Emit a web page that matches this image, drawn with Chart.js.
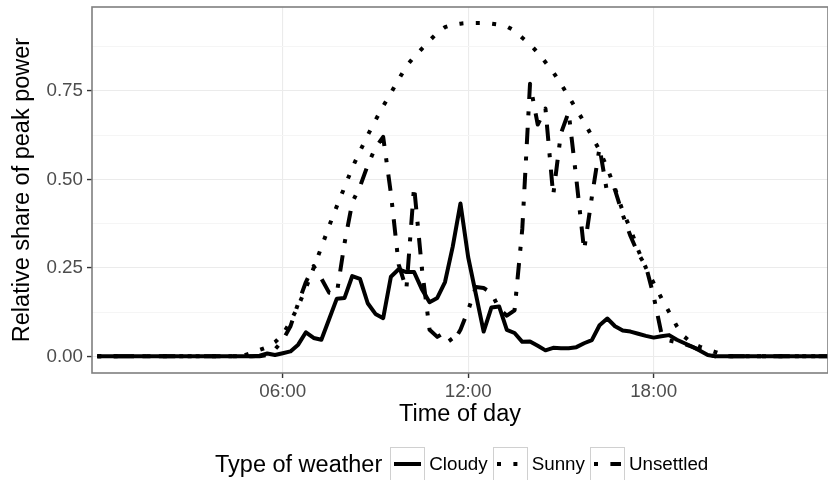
<!DOCTYPE html>
<html>
<head>
<meta charset="utf-8">
<script src="https://cdn.jsdelivr.net/npm/chart.js@4.4.0/dist/chart.umd.min.js"></script>
<style>
  html, body { margin: 0; padding: 0; background: #fff; }
  #wrap { position: relative; width: 828px; height: 480px; overflow: hidden;
          font-family: "Liberation Sans", Arial, Helvetica, sans-serif; }
  #chart { position: absolute; left: 0; top: 0; }
  #legend { position: absolute; left: 215px; top: 447px; display: flex; white-space: nowrap; }
  #legend .title { font-size: 23.5px; line-height: 34px; margin-right: 8px; color: #000; }
  #legend .key { width: 35px; height: 34px; box-sizing: border-box; border: 1px solid #d0d0d0; margin-right: 4px; }
  #legend .label { font-size: 18.8px; line-height: 34px; margin-right: 5px; color: #000; }
</style>
</head>
<body>
<div id="wrap">
  <canvas id="chart" width="828" height="480"></canvas>
  <div id="legend"></div>
</div>
<script>
// 15-minute readings, first one at 00:00
const stepHours = 0.25;
const tickHours = [6, 12, 18];
const tickLabels = ['06:00', '12:00', '18:00'];
const yGridValues = [0, 0.125, 0.25, 0.375, 0.5, 0.625, 0.75, 0.875];
const yMajor = [0, 0.25, 0.5, 0.75];
const seriesNames = ['Cloudy', 'Sunny', 'Unsettled'];

const cloudy = [
  0, 0, 0, 0, 0, 0, 0, 0, 0, 0, 0, 0,
  0, 0, 0, 0, 0, 0, 0, 0, 0, 0.002, 0.008, 0.004,
  0.009, 0.014, 0.033, 0.068, 0.052, 0.047, 0.105, 0.163, 0.165, 0.227, 0.219, 0.15,
  0.12, 0.108, 0.225, 0.246, 0.238, 0.238, 0.19, 0.153, 0.165, 0.21, 0.31, 0.432,
  0.28, 0.175, 0.07, 0.138, 0.141, 0.075, 0.066, 0.041, 0.042, 0.03, 0.017, 0.024,
  0.023, 0.023, 0.026, 0.037, 0.046, 0.088, 0.107, 0.085, 0.073, 0.07, 0.064, 0.058,
  0.053, 0.057, 0.06, 0.047, 0.037, 0.027, 0.016, 0.004, 0, 0, 0, 0,
  0, 0, 0, 0, 0, 0, 0, 0, 0, 0, 0, 0
];
const sunny = [
  0, 0, 0, 0, 0, 0, 0, 0, 0, 0, 0, 0,
  0, 0, 0, 0, 0, 0, 0, 0.003, 0.01, 0.018, 0.026, 0.04,
  0.062, 0.098, 0.142, 0.193, 0.25, 0.308, 0.368, 0.424, 0.478, 0.533, 0.58, 0.625,
  0.667, 0.707, 0.744, 0.782, 0.82, 0.846, 0.869, 0.892, 0.914, 0.93, 0.937, 0.94,
  0.942, 0.942, 0.942, 0.94, 0.937, 0.932, 0.92, 0.9, 0.882, 0.858, 0.831, 0.803,
  0.77, 0.734, 0.698, 0.662, 0.622, 0.582, 0.532, 0.474, 0.41, 0.36, 0.3, 0.25,
  0.207, 0.165, 0.125, 0.085, 0.055, 0.037, 0.027, 0.019, 0.012, 0.005, 0, 0,
  0, 0, 0, 0, 0, 0, 0, 0, 0, 0, 0, 0
];
const unsettled = [
  0, 0, 0, 0, 0, 0, 0, 0, 0, 0, 0, 0,
  0, 0, 0, 0, 0, 0, 0, 0, 0, 0, 0.004, 0.02,
  0.045, 0.085, 0.15, 0.21, 0.255, 0.22, 0.18, 0.178, 0.32, 0.435, 0.48, 0.54,
  0.59, 0.62, 0.46, 0.26, 0.19, 0.48, 0.25, 0.075, 0.055, 0.068, 0.038, 0.075,
  0.13, 0.196, 0.193, 0.18, 0.135, 0.115, 0.13, 0.36, 0.77, 0.655, 0.7, 0.455,
  0.63, 0.69, 0.5, 0.3, 0.45, 0.59, 0.46, 0.47, 0.4, 0.34, 0.29, 0.255,
  0.17, 0.065, 0.045, 0.04, 0.035, 0.027, 0.018, 0.005, 0, 0, 0, 0,
  0, 0, 0, 0, 0, 0, 0, 0, 0, 0, 0, 0
];

const dashes = {
  Cloudy: [],
  Sunny: [4, 12.4],
  Unsettled: [4, 12.4, 16.4, 12.4]
};

const toPoints = values => values.map((v, i) => ({ x: i * stepHours, y: v }));

const panelBorder = {
  id: 'panelBorder',
  afterDatasetsDraw(chart) {
    const { ctx, chartArea: a } = chart;
    ctx.save();
    ctx.strokeStyle = '#7f7f7f';
    ctx.lineWidth = 1.6;
    ctx.strokeRect(a.left, a.top, a.right - a.left, a.bottom - a.top);
    ctx.restore();
  }
};

const font = '"Liberation Sans", Arial, Helvetica, sans-serif';
const isMajor = v => yMajor.includes(v);

new Chart(document.getElementById('chart'), {
  type: 'line',
  data: {
    datasets: [cloudy, sunny, unsettled].map((values, i) => ({
      label: seriesNames[i],
      data: toPoints(values),
      borderColor: '#000',
      borderWidth: 4,
      borderDash: dashes[seriesNames[i]],
      borderCapStyle: 'butt',
      borderJoinStyle: 'round',
      pointRadius: 0,
      tension: 0,
      fill: false
    }))
  },
  options: {
    responsive: false,
    animation: false,
    devicePixelRatio: 1,
    layout: { padding: { top: 7, right: 0, bottom: 43, left: 0 } },
    plugins: { legend: { display: false }, tooltip: { enabled: false } },
    scales: {
      x: {
        type: 'linear',
        min: -0.17,
        max: 23.64,
        afterBuildTicks: s => { s.ticks = tickHours.map(v => ({ value: v })); },
        afterFit: s => { s.height = 64; s.paddingLeft = 0; s.paddingRight = 0; },
        ticks: {
          autoSkip: false, maxRotation: 0, padding: 3,
          color: '#4d4d4d', font: { family: font, size: 18.8 },
          callback: v => tickLabels[tickHours.indexOf(v)] || ''
        },
        grid: { color: '#ebebeb', lineWidth: 1.1, tickLength: 5, tickColor: '#333', tickWidth: 1.4 },
        border: { display: false },
        title: {
          display: true, text: 'Time of day', color: '#000',
          font: { family: font, size: 23.5 }, padding: { top: 0, bottom: 8 }
        }
      },
      y: {
        min: -0.047,
        max: 0.987,
        afterBuildTicks: s => { s.ticks = yGridValues.map(v => ({ value: v })); },
        afterFit: s => { s.width = 92; s.paddingTop = 0; s.paddingBottom = 0; },
        ticks: {
          autoSkip: false, padding: 4,
          color: '#4d4d4d', font: { family: font, size: 18.8 },
          callback: v => isMajor(v) ? v.toFixed(2) : ''
        },
        grid: {
          color: c => isMajor(c.tick.value) ? '#ebebeb' : '#f5f5f5',
          lineWidth: 1.1, tickLength: 5,
          tickColor: c => isMajor(c.tick.value) ? '#333' : 'rgba(0,0,0,0)',
          tickWidth: 1.4
        },
        border: { display: false },
        title: {
          display: true, text: 'Relative share of peak power', color: '#000',
          font: { family: font, size: 23.5 }, padding: { top: 8, bottom: 0 }
        }
      }
    }
  },
  plugins: [panelBorder]
});

// legend: title, then a boxed line sample and a label for each series
const legend = document.getElementById('legend');
legend.innerHTML = '<span class="title">Type of weather</span>' + seriesNames.map(name => `
  <span class="key"><svg width="33" height="32">
    <line x1="3" y1="16" x2="30" y2="16" stroke="#000" stroke-width="4"
      stroke-dasharray="${dashes[name].join(' ') || 'none'}"/>
  </svg></span><span class="label">${name}</span>`).join('');
</script>
</body>
</html>
